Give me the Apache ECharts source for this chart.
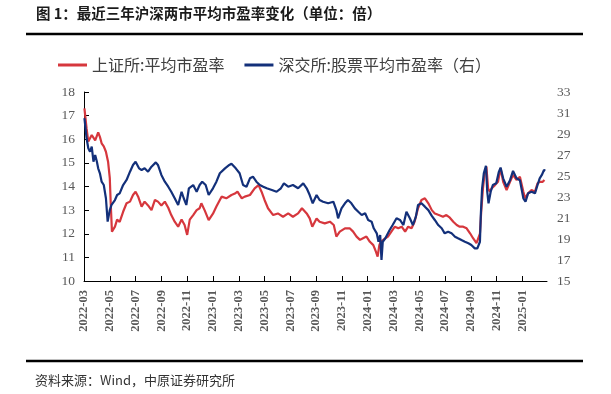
<!DOCTYPE html>
<html><head><meta charset="utf-8">
<script src="https://cdn.jsdelivr.net/npm/echarts@6/dist/echarts.min.js"></script>
<style>html,body{margin:0;padding:0;background:#fff}#c{width:611px;height:394px}</style>
</head><body><div id="c"></div>
<script>
const xTickLabels = ['2022-03','2022-05','2022-07','2022-09','2022-11','2023-01','2023-03','2023-05','2023-07','2023-09','2023-11','2024-01','2024-03','2024-05','2024-07','2024-09','2024-11','2025-01'];
const seriesNames = ['上证所:平均市盈率','深交所:股票平均市盈率（右）'];

const shDates = ['2022-03-02','2022-03-07','2022-03-11','2022-03-19','2022-03-27','2022-04-04','2022-04-08','2022-04-12','2022-04-17','2022-04-22','2022-04-27','2022-05-01','2022-05-03','2022-05-06','2022-05-13','2022-05-18','2022-05-24','2022-06-02','2022-06-10','2022-06-18','2022-06-25','2022-07-01','2022-07-07','2022-07-15','2022-07-22','2022-07-30','2022-08-08','2022-08-16','2022-08-23','2022-09-01','2022-09-09','2022-09-17','2022-09-24','2022-10-02','2022-10-10','2022-10-18','2022-10-25','2022-11-01','2022-11-07','2022-11-15','2022-11-23','2022-11-30','2022-12-04','2022-12-12','2022-12-21','2023-01-01','2023-01-09','2023-01-21','2023-02-02','2023-02-14','2023-02-22','2023-02-28','2023-03-08','2023-03-15','2023-03-27','2023-04-08','2023-04-17','2023-04-24','2023-05-01','2023-05-09','2023-05-21','2023-06-02','2023-06-14','2023-06-26','2023-07-07','2023-07-19','2023-07-28','2023-08-09','2023-08-16','2023-08-22','2023-08-24','2023-09-02','2023-09-09','2023-09-21','2023-10-03','2023-10-12','2023-10-18','2023-10-26','2023-11-08','2023-11-19','2023-11-27','2023-12-05','2023-12-13','2023-12-20','2023-12-28','2024-01-06','2024-01-14','2024-01-20','2024-01-24','2024-01-28','2024-02-01','2024-02-05','2024-02-10','2024-02-18','2024-02-26','2024-03-04','2024-03-12','2024-03-20','2024-03-28','2024-04-05','2024-04-13','2024-04-20','2024-04-28','2024-05-06','2024-05-14','2024-05-22','2024-05-30','2024-06-07','2024-06-15','2024-06-26','2024-07-04','2024-07-12','2024-07-20','2024-07-28','2024-08-05','2024-08-13','2024-08-21','2024-08-29','2024-09-06','2024-09-14','2024-09-18','2024-09-22','2024-09-25','2024-09-29','2024-10-03','2024-10-07','2024-10-11','2024-10-15','2024-10-19','2024-10-27','2024-11-04','2024-11-10','2024-11-16','2024-11-24','2024-12-02','2024-12-09','2024-12-17','2024-12-25','2025-01-03','2025-01-07','2025-01-14','2025-01-22','2025-01-30','2025-02-06','2025-02-11','2025-02-18','2025-02-22'];
const shPE = [17.31,16.46,15.9,16.18,15.95,16.29,16.1,15.83,15.7,15.47,15.05,14.35,13.36,12.09,12.3,12.6,12.5,12.93,13.29,13.36,13.64,13.78,13.57,13.15,13.36,13.2,13.0,13.43,13.36,13.2,13.36,13.1,12.79,12.51,12.3,12.6,12.37,11.95,12.6,12.79,13.0,13.08,13.29,12.98,12.58,12.85,13.15,13.57,13.5,13.64,13.7,13.78,13.5,13.57,13.64,13.92,14.06,13.78,13.43,13.08,12.79,12.86,12.72,12.86,12.72,12.86,13.08,12.86,12.65,12.3,12.3,12.65,12.51,12.44,12.51,12.37,11.88,12.09,12.23,12.23,12.09,11.88,11.74,11.81,11.88,11.66,11.52,11.24,11.03,11.52,11.66,11.6,11.78,11.88,12.09,12.3,12.23,12.3,12.09,12.3,12.23,12.51,13.08,13.43,13.5,13.29,13.0,12.86,12.8,12.72,12.79,12.68,12.51,12.37,12.3,12.3,12.23,12.02,11.81,11.6,11.66,12.0,12.93,13.92,14.56,14.84,13.92,13.78,13.92,14.06,14.2,14.77,14.2,13.85,14.2,14.49,14.28,14.41,13.78,13.5,13.71,13.85,13.78,14.13,14.2,14.2,14.28];

const szDates = ['2022-03-02','2022-03-07','2022-03-11','2022-03-15','2022-03-19','2022-03-23','2022-03-27','2022-03-31','2022-04-04','2022-04-08','2022-04-12','2022-04-17','2022-04-22','2022-04-26','2022-05-01','2022-05-05','2022-05-13','2022-05-18','2022-05-24','2022-06-02','2022-06-10','2022-06-18','2022-06-25','2022-07-01','2022-07-09','2022-07-15','2022-07-22','2022-07-30','2022-08-08','2022-08-18','2022-08-23','2022-09-01','2022-09-09','2022-09-17','2022-09-24','2022-10-02','2022-10-10','2022-10-18','2022-10-23','2022-10-29','2022-11-05','2022-11-15','2022-11-23','2022-11-30','2022-12-06','2022-12-14','2022-12-21','2023-01-01','2023-01-09','2023-01-17','2023-01-29','2023-02-09','2023-02-14','2023-02-24','2023-03-03','2023-03-11','2023-03-19','2023-03-27','2023-04-04','2023-04-12','2023-04-20','2023-04-28','2023-05-06','2023-05-18','2023-05-29','2023-06-09','2023-06-16','2023-06-26','2023-07-07','2023-07-19','2023-08-01','2023-08-09','2023-08-16','2023-08-23','2023-09-02','2023-09-09','2023-09-17','2023-09-29','2023-10-11','2023-10-18','2023-10-22','2023-10-30','2023-11-08','2023-11-15','2023-11-23','2023-12-01','2023-12-09','2023-12-17','2023-12-25','2024-01-02','2024-01-10','2024-01-15','2024-01-22','2024-01-26','2024-01-30','2024-02-03','2024-02-06','2024-02-12','2024-02-22','2024-02-29','2024-03-08','2024-03-16','2024-03-24','2024-04-01','2024-04-09','2024-04-16','2024-04-23','2024-04-28','2024-05-06','2024-05-14','2024-05-22','2024-05-30','2024-06-07','2024-06-15','2024-06-23','2024-06-30','2024-07-08','2024-07-16','2024-07-24','2024-08-01','2024-08-09','2024-08-17','2024-08-25','2024-09-02','2024-09-10','2024-09-16','2024-09-22','2024-09-24','2024-09-27','2024-10-01','2024-10-06','2024-10-09','2024-10-12','2024-10-17','2024-10-22','2024-10-30','2024-11-06','2024-11-10','2024-11-16','2024-11-24','2024-12-02','2024-12-09','2024-12-17','2024-12-25','2025-01-03','2025-01-08','2025-01-14','2025-01-22','2025-01-30','2025-02-06','2025-02-11','2025-02-16','2025-02-21','2025-02-24'];
const szPE = [30.5,28.59,27.64,27.31,27.79,26.36,27.0,26.36,25.73,25.26,24.46,24.14,22.88,20.65,21.76,22.24,22.71,23.19,23.35,24.14,24.62,25.41,26.05,26.36,25.73,25.57,25.73,25.41,25.89,26.3,26.05,25.1,24.46,23.98,23.5,22.88,22.24,23.5,22.88,22.24,23.83,24.14,23.5,24.14,24.46,24.14,23.19,23.83,24.46,25.26,25.73,26.05,26.17,25.73,25.26,24.14,23.98,24.78,24.93,24.46,24.14,23.98,23.83,23.67,23.5,23.83,24.3,23.98,24.14,23.83,24.3,23.83,23.19,22.4,23.19,22.71,22.55,22.4,22.55,21.76,20.97,21.92,22.4,22.71,22.4,21.92,21.6,21.29,21.45,20.81,20.65,20.02,19.54,18.74,19.38,17.0,18.74,19.07,19.86,20.33,20.97,20.81,20.33,21.6,20.97,20.33,21.13,22.24,22.4,22.08,21.75,21.2,20.81,20.33,20.02,19.54,19.7,19.54,19.22,19.07,18.9,18.74,18.6,18.43,18.11,18.11,18.74,21.29,23.83,25.26,25.98,23.5,22.4,23.5,24.14,24.3,25.4,25.8,24.78,23.98,24.6,25.48,24.78,24.6,22.87,22.55,23.35,23.5,23.35,24.14,24.78,25.1,25.57,25.5];

// month index from 2022-03
function toM(s){const p=s.split('-').map(Number);return (p[0]-2022)*12+(p[1]-3)+(p[2]-1)/30;}
const xTicks = xTickLabels.map(s=>toM(s+'-01'));
const shData = shDates.map((d,i)=>[toM(d),shPE[i]]);
const szData = szDates.map((d,i)=>[toM(d),szPE[i]]);

const RED='#d6373d', BLUE='#13307a';
const chart = echarts.init(document.getElementById('c'));
chart.setOption({
  animation:false,
  backgroundColor:'#fff',
  grid:{left:84,right:64,top:92,bottom:113},
  legend:{
    left:53, top:52, itemWidth:29, itemHeight:3, itemGap:20, icon:'rect',
    textStyle:{fontFamily:'Noto Sans CJK SC',fontSize:16,color:'#404040'},
    data:seriesNames
  },
  xAxis:{
    type:'value', min:0, max:35.9,
    splitLine:{show:false},
    axisLine:{lineStyle:{color:'#000',width:1}},
    axisTick:{inside:true,length:5,customValues:xTicks,lineStyle:{color:'#000'}},
    axisLabel:{customValues:xTicks,rotate:90,margin:9,fontFamily:'Liberation Serif',fontWeight:'bold',fontSize:12.5,color:'#595959',
      formatter:v=>{const i=xTicks.findIndex(t=>Math.abs(t-v)<1e-6);return i>=0?xTickLabels[i]:'';}}
  },
  yAxis:[
    {type:'value',min:10,max:18,interval:1,splitLine:{show:false},
     axisLine:{show:true,lineStyle:{color:'#000'}},
     axisTick:{show:true,inside:true,length:5,lineStyle:{color:'#000'}},
     axisLabel:{margin:9,fontFamily:'Liberation Serif',fontSize:13.5,color:'#595959'}},
    {type:'value',min:15,max:33,interval:2,splitLine:{show:false},
     axisLine:{show:false},axisTick:{show:false},
     axisLabel:{margin:10,fontFamily:'Liberation Serif',fontSize:13.5,color:'#595959'}}
  ],
  series:[
    {name:seriesNames[0],type:'line',data:shData,yAxisIndex:0,showSymbol:false,lineStyle:{color:RED,width:2.2},itemStyle:{color:RED},z:2},
    {name:seriesNames[1],type:'line',data:szData,yAxisIndex:1,showSymbol:false,lineStyle:{color:BLUE,width:2.2},itemStyle:{color:BLUE},z:3}
  ],
  graphic:[
    {type:'text',left:36,top:6,style:{text:'图 1：最近三年沪深两市平均市盈率变化（单位：倍）',font:'bold 14.5px "Noto Sans CJK SC"',fill:'#1a1a1a'}},
    {type:'line',shape:{x1:26,y1:34,x2:583,y2:34},style:{stroke:'#000',lineWidth:2.5}},
    {type:'line',shape:{x1:26,y1:361,x2:583,y2:361},style:{stroke:'#000',lineWidth:2.5}},
    {type:'text',left:35,top:374,style:{text:'资料来源：Wind，中原证券研究所',font:'13px "Noto Sans CJK SC"',fill:'#333'}}
  ]
});
</script></body></html>
